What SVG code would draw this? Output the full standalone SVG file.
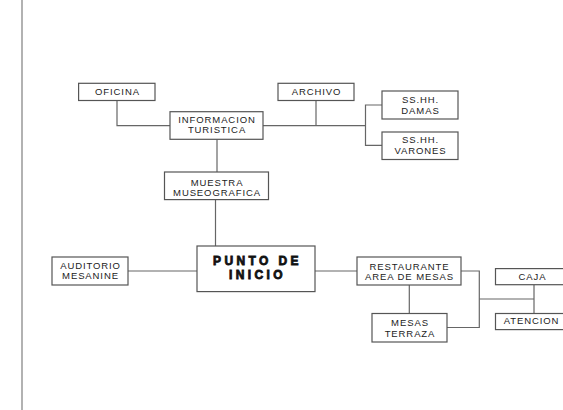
<svg xmlns="http://www.w3.org/2000/svg" width="563" height="410" viewBox="0 0 563 410">
<style>
.box{fill:#fff;stroke:#555;stroke-width:1.2}
.t{font-family:"Liberation Sans",Arial,sans-serif;font-size:9.5px;fill:#222;text-anchor:middle;letter-spacing:0.9px}
.b{font-family:"Liberation Sans",Arial,sans-serif;font-size:12px;font-weight:bold;fill:#111;stroke:#111;stroke-width:0.8;text-anchor:middle;letter-spacing:3.4px}
.c{fill:none;stroke:#666;stroke-width:1.2}
</style>
<rect width="563" height="410" fill="#fff"/>
<line x1="22" y1="0" x2="22" y2="410" stroke="#999" stroke-width="1.5"/>
<g id="connectors">
<polyline class="c" points="117,100.5 117,125.7 170,125.7"/>
<line class="c" x1="263" y1="125.7" x2="365.5" y2="125.7"/>
<line class="c" x1="316" y1="100.5" x2="316" y2="125.7"/>
<polyline class="c" points="382,105 365.5,105 365.5,145.4 382,145.4"/>
<line class="c" x1="217" y1="139.3" x2="217" y2="172"/>
<line class="c" x1="215.5" y1="199.6" x2="215.5" y2="246"/>
<line class="c" x1="128" y1="271" x2="197" y2="271"/>
<line class="c" x1="315" y1="271" x2="357" y2="271"/>
<polyline class="c" points="461,271 479.3,271 479.3,327.5 447,327.5"/>
<line class="c" x1="409.3" y1="285" x2="409.3" y2="313.5"/>
<line class="c" x1="479.3" y1="299" x2="534" y2="299"/>
<line class="c" x1="534" y1="284.7" x2="534" y2="313.5"/>
</g>
<g id="oficina"><rect class="box" x="78.6" y="83.3" width="76.4" height="17.2"/><text class="t" x="117.5" y="94.6">OFICINA</text></g>
<g id="archivo"><rect class="box" x="278" y="83.3" width="76" height="17.2"/><text class="t" x="316.5" y="94.6">ARCHIVO</text></g>
<g id="informacion"><rect class="box" x="170" y="111.7" width="93" height="27.6"/><text class="t" x="217" y="123.2">INFORMACION</text><text class="t" x="217" y="132.9">TURISTICA</text></g>
<g id="damas"><rect class="box" x="382" y="91" width="76" height="28"/><text class="t" x="420.5" y="103">SS.HH.</text><text class="t" x="420.5" y="113.5">DAMAS</text></g>
<g id="varones"><rect class="box" x="382" y="132" width="76" height="27.5"/><text class="t" x="420.5" y="143">SS.HH.</text><text class="t" x="420.5" y="154.4">VARONES</text></g>
<g id="muestra"><rect class="box" x="164.5" y="172" width="104" height="27.6"/><text class="t" x="217" y="185.6">MUESTRA</text><text class="t" x="217" y="195.7">MUSEOGRAFICA</text></g>
<g id="punto"><rect class="box" x="197" y="246" width="118" height="45.6"/><text class="b" x="257.5" y="265.4">PUNTO DE</text><text class="b" x="257.5" y="279">INICIO</text></g>
<g id="auditorio"><rect class="box" x="52" y="257" width="76" height="28"/><text class="t" x="90.5" y="268.6">AUDITORIO</text><text class="t" x="90.5" y="279">MESANINE</text></g>
<g id="restaurante"><rect class="box" x="357" y="257" width="104" height="28"/><text class="t" x="409.5" y="270.4">RESTAURANTE</text><text class="t" x="409.5" y="280.4">AREA DE MESAS</text></g>
<g id="mesas"><rect class="box" x="372" y="313.5" width="75" height="28.5"/><text class="t" x="410" y="325.7">MESAS</text><text class="t" x="410" y="336.8">TERRAZA</text></g>
<g id="caja"><rect class="box" x="495.5" y="268.6" width="70" height="16.1"/><text class="t" x="532.5" y="279.7">CAJA</text></g>
<g id="atencion"><rect class="box" x="495.5" y="313.5" width="70" height="16.1"/><text class="t" x="531.5" y="324.4">ATENCION</text></g>
</svg>
